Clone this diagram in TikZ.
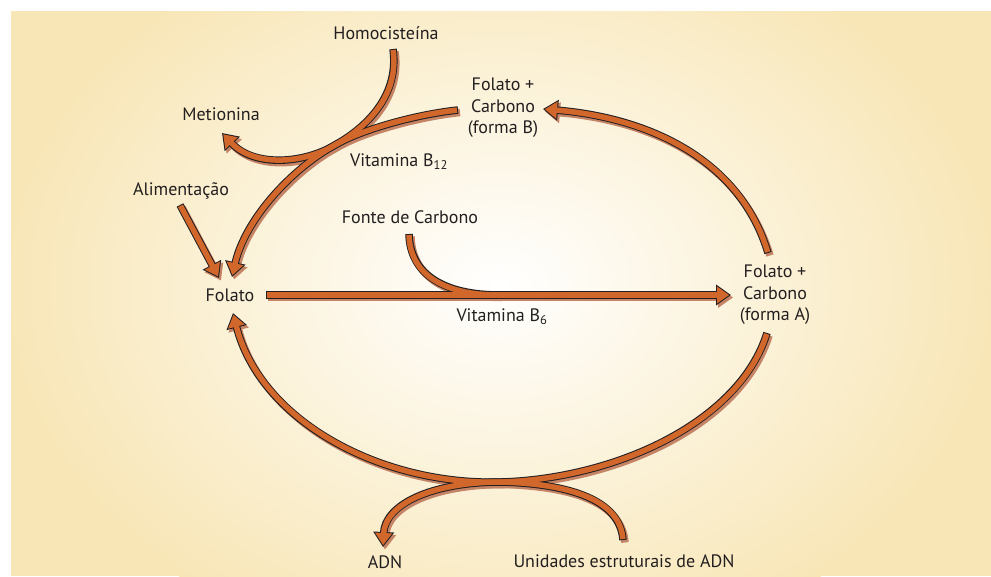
\documentclass[tikz,border=0pt]{standalone}
\usepackage{fontspec}
\setmainfont{PT Sans}
\usetikzlibrary{arrows.meta,calc}
\definecolor{panelbg}{RGB}{248,230,182}
\definecolor{arroworange}{RGB}{210,103,44}
\definecolor{arrowshade}{RGB}{198,132,102}
\definecolor{inkgray}{RGB}{35,31,32}

\begin{document}
\begin{tikzpicture}[x=1pt,y=-1pt,
  txt/.style={text=inkgray,font=\fontsize{18}{21.5}\selectfont,inner sep=0pt,align=center},
  shadelayer/.style={draw=arrowshade,line width=7.5pt,transform canvas={shift={(2pt,-2.5pt)}},>={Triangle[length=15pt,width=20pt]}},
  inklayer/.style={draw=inkgray,line width=7.5pt,>={Triangle[length=15pt,width=20pt]}},
  filllayer/.style={draw=arroworange,line width=5.5pt,shorten >=1.8pt,shorten <=1pt,>={Triangle[length=12.2pt,width=16.3pt]}}]
% panel with soft glow in the middle
\useasboundingbox (0,0) rectangle (991,576);
\fill[panelbg] (11,11) rectangle (991,576);
\begin{scope}
\clip (11,11) rectangle (991,576);
\shade[inner color=white,outer color=panelbg] (500,285) ellipse [x radius=500,y radius=380];
\end{scope}

% labels
\node[txt] (homo) at (386,33) {Homocisteína};
\node[txt] (metio) at (221,114) {Metionina};
\node[txt] (formaB) at (503,108) {Folato +\\Carbono\\(forma B)};
\node[txt] (vitB12) at (399,162) {Vitamina B\textsubscript{12}};
\node[txt] (alim) at (181,191) {Alimentação};
\node[txt] (fonte) at (410,217) {Fonte de Carbono};
\node[txt] (folato) at (230,295) {Folato};
\node[txt] (formaA) at (775,295) {Folato +\\Carbono\\(forma A)};
\node[txt] (vitB6) at (502,317) {Vitamina B\textsubscript{6}};
\node[txt] (adn) at (385,562) {ADN};
\node[txt] (unid) at (624,561) {Unidades estruturais de ADN};

% where the arrows run together
\coordinate (jB) at (335,145);
\coordinate (jA) at (502,482);
\coordinate (jC) at (500,295);

% arrows: shadow, outline, then orange body
\foreach \lay in {shadelayer,inklayer,filllayer}{
  \draw[\lay,->] ($(homo)+(7,16)$) .. controls (400,100) and (360,131) .. (jB)
    .. controls (305,163) and (255,168) .. ($(metio)+(1,19)$);
  \draw[\lay,->] ($(formaB)+(-45,2)$) .. controls (420,114) and (365,128) .. (jB)
    .. controls (290,170) and (245,220) .. ($(folato)+(2,-18)$);
  \draw[\lay,->] ($(alim)+(-1,14)$) -- ($(folato)+(-11,-17)$);
  \draw[\lay,->] ($(folato)+(36,0)$) -- ($(formaA)+(-44,0)$);
  \draw[\lay] ($(fonte)+(-1,17)$) .. controls (410,275) and (445,295) .. (jC);
  \draw[\lay,->] ($(formaA)+(-7,-42)$) .. controls (740,160) and (650,118) .. ($(formaB)+(40,1)$);
  \draw[\lay,->] ($(formaA)+(-8,38)$) .. controls (740,420) and (620,478) .. (jA)
    .. controls (380,486) and (260,420) .. ($(folato)+(3,18)$);
  \draw[\lay,->] ($(unid)+(-1,-21)$) .. controls (620,500) and (570,484) .. (jA)
    .. controls (430,482) and (385,505) .. ($(adn)+(-2,-15)$);
}
\end{tikzpicture}
\end{document}
